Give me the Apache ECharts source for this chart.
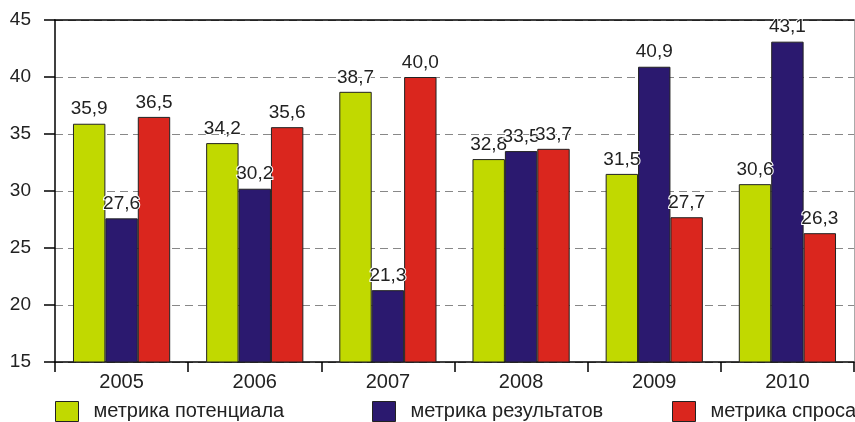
<!DOCTYPE html>
<html>
<head>
<meta charset="utf-8">
<script src="https://cdn.jsdelivr.net/npm/echarts@6/dist/echarts.min.js"></script>
<style>
  html, body { margin: 0; padding: 0; background: #fff; }
  #chart { width: 855px; height: 422px; }
</style>
</head>
<body>
<div id="chart"></div>
<script>
const years = ["2005", "2006", "2007", "2008", "2009", "2010"];
const potential = [35.9, 34.2, 38.7, 32.8, 31.5, 30.6];
const results = [27.6, 30.2, 21.3, 33.5, 40.9, 43.1];
const demand = [36.5, 35.6, 40.0, 33.7, 27.7, 26.3];
const seriesNames = ["метрика потенциала", "метрика результатов", "метрика спроса"];
const colors = ["#c1d900", "#2b196f", "#da261e"];

const font = "Arial, 'Liberation Sans', sans-serif";
const chart = echarts.init(document.getElementById("chart"));

const fmt = (p) => p.value.toFixed(1).replace(".", ",");

const makeSeries = (name, data, color) => ({
  name: name,
  type: "bar",
  data: data,
  barGap: "0%",
  barCategoryGap: "27%",
  itemStyle: { color: color, borderColor: "#222", borderWidth: 1 },
  label: {
    show: true,
    position: "top",
    distance: 5,
    formatter: fmt,
    fontFamily: font,
    fontSize: 19,
    color: "#222",
    textBorderColor: "#fff",
    textBorderWidth: 2
  }
});

const legendBase = (idx, left) => ({
  data: [seriesNames[idx]],
  left: left,
  top: 401,
  padding: 0,
  itemWidth: 23,
  itemHeight: 20,
  icon: "rect",
  itemStyle: { borderColor: "#222", borderWidth: 1 },
  textStyle: { fontFamily: font, fontSize: 20, color: "#222", padding: [0, 0, 0, 10] }
});

chart.setOption({
  animation: false,
  grid: { left: 55, right: 1, top: 20, bottom: 60 },
  legend: [legendBase(0, 55), legendBase(1, 372), legendBase(2, 672)],
  xAxis: [
    {
      type: "category",
      data: years,
      axisLine: { lineStyle: { color: "#000", width: 1.5 } },
      axisTick: { show: true, length: 10, lineStyle: { color: "#000", width: 1.5 } },
      axisLabel: { fontFamily: font, fontSize: 20, color: "#222", margin: 10 }
    },
    {
      type: "category",
      data: years,
      position: "top",
      axisLine: { lineStyle: { color: "#000", width: 1.5 } },
      axisTick: { show: false },
      axisLabel: { show: false }
    }
  ],
  yAxis: [
    {
      type: "value",
      min: 15,
      max: 45,
      interval: 5,
      axisLine: { show: true, lineStyle: { color: "#000", width: 1.5 } },
      axisTick: { show: true, length: 11, lineStyle: { color: "#000", width: 1.5 } },
      axisLabel: { fontFamily: font, fontSize: 19, color: "#222", margin: 24 },
      splitLine: { show: true, lineStyle: { color: "#888", type: [8, 5], width: 1 } }
    },
    {
      type: "value",
      min: 15,
      max: 45,
      interval: 5,
      position: "right",
      axisLine: { show: true, lineStyle: { color: "#aaa", width: 1 } },
      axisTick: { show: false },
      axisLabel: { show: false },
      splitLine: { show: false }
    }
  ],
  series: [
    makeSeries(seriesNames[0], potential, colors[0]),
    makeSeries(seriesNames[1], results, colors[1]),
    makeSeries(seriesNames[2], demand, colors[2])
  ]
});
</script>
</body>
</html>
